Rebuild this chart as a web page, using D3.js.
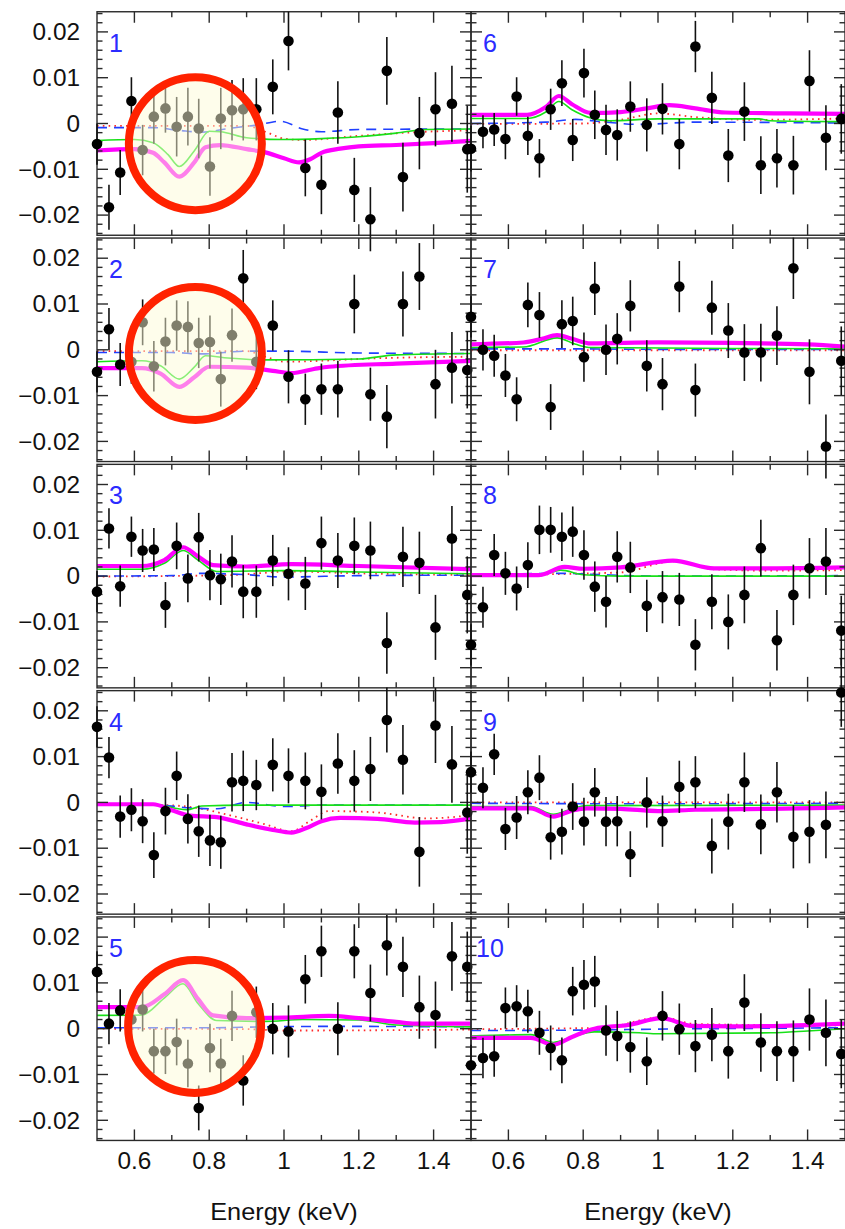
<!DOCTYPE html>
<html><head><meta charset="utf-8">
<script src="https://cdn.jsdelivr.net/npm/d3@7"></script>
<style>html,body{margin:0;padding:0;background:#fff;} svg{display:block;}</style>
</head><body>
<svg id="chart" width="845" height="1229"></svg>
<script>
// Energy bins (keV), shared by all ten spectra
const energies = [0.5,0.532,0.562,0.592,0.622,0.652,0.683,0.713,0.743,0.772,0.802,0.831,0.861,0.891,0.926,0.970,1.012,1.057,1.100,1.144,1.188,1.231,1.275,1.318,1.362,1.405,1.449,1.49];

// Residuals per panel (panel 1 … 10)
const resid = [
  [-0.0045,-0.0183,-0.0107,0.0049,-0.0058,0.0015,0.0033,-0.0007,0.0015,-0.0011,-0.0094,0.0011,0.0029,0.0031,0.0031,0.0080,0.0180,-0.0097,-0.0134,0.0024,-0.0145,-0.0209,0.0115,-0.0117,-0.0021,0.0031,0.0043,-0.0056],
  [-0.0048,0.0045,-0.0032,-0.0026,0.0060,-0.0036,0.0018,0.0053,0.0050,0.0015,0.0017,-0.0064,0.0032,0.0156,-0.0026,0.0053,-0.0059,-0.0108,-0.0086,-0.0086,0.0100,-0.0097,-0.0146,0.0100,0.0160,-0.0075,-0.0039,-0.0044],
  [-0.0034,0.0104,-0.0022,0.0086,0.0056,0.0058,-0.0063,0.0066,-0.0005,0.0085,0.0002,-0.0007,0.0032,-0.0034,-0.0034,0.0034,0.0005,-0.0016,0.0072,0.0034,0.0066,0.0056,-0.0146,0.0042,0.0029,-0.0112,0.0082,-0.0041],
  [0.0165,0.0098,-0.0031,-0.0016,-0.0041,-0.0115,-0.0019,0.0058,-0.0036,-0.0063,-0.0083,-0.0087,0.0044,0.0047,0.0038,0.0082,0.0058,0.0047,0.0023,0.0085,0.0047,0.0073,0.0180,0.0093,-0.0108,0.0168,0.0083,-0.0022],
  [0.0124,0.0011,0.0040,0.0020,0.0042,-0.0049,-0.0049,-0.0029,-0.0076,-0.0173,-0.0042,-0.0076,0.0028,-0.0113,0.0036,0.0000,-0.0006,0.0108,0.0169,0.0000,0.0169,0.0078,0.0182,0.0135,0.0047,0.0030,0.0158,0.0135],
  [-0.0055,-0.0018,-0.0013,-0.0034,0.0059,-0.0027,-0.0076,0.0031,0.0088,-0.0036,0.0110,0.0019,-0.0014,-0.0025,0.0037,-0.0003,0.0032,-0.0045,0.0168,0.0056,-0.0070,0.0026,-0.0091,-0.0076,-0.0091,0.0093,-0.0031,0.0010],
  [0.0072,0.0000,-0.0013,-0.0056,-0.0108,0.0098,0.0076,-0.0125,0.0056,0.0063,-0.0016,0.0134,0.0000,0.0024,0.0096,-0.0035,-0.0075,0.0138,-0.0088,0.0092,0.0042,-0.0006,-0.0006,0.0031,0.0178,-0.0048,-0.0211,-0.0024],
  [-0.0150,-0.0068,0.0046,0.0006,-0.0027,0.0024,0.0101,0.0101,0.0086,0.0097,0.0046,-0.0023,-0.0056,0.0042,0.0019,-0.0065,-0.0046,-0.0051,-0.0150,-0.0056,-0.0100,-0.0041,0.0061,-0.0140,-0.0041,0.0017,0.0032,-0.0119],
  [0.0066,0.0032,0.0105,-0.0058,-0.0033,0.0022,0.0054,-0.0076,-0.0064,-0.0009,-0.0042,0.0022,-0.0042,-0.0041,-0.0113,0.0000,-0.0041,0.0034,0.0044,-0.0095,-0.0042,0.0044,-0.0048,0.0022,-0.0075,-0.0064,-0.0049,0.0240],
  [-0.0080,-0.0064,-0.0060,0.0045,0.0049,0.0038,-0.0009,-0.0042,-0.0069,0.0082,0.0096,0.0103,-0.0004,-0.0016,-0.0040,-0.0071,0.0028,-0.0001,-0.0038,-0.0013,-0.0049,0.0057,-0.0030,-0.0049,-0.0049,0.0020,-0.0009,-0.0055]
];

// 1-sigma errors per panel
const errs = [
  [0.0045,0.0049,0.0049,0.0052,0.0055,0.0059,0.0053,0.0065,0.0063,0.0065,0.0064,0.0067,0.0066,0.0068,0.0068,0.0060,0.0064,0.0062,0.0064,0.0068,0.0070,0.0070,0.0074,0.0075,0.0079,0.0081,0.0083,0.0095],
  [0.0045,0.0046,0.0047,0.0048,0.0050,0.0055,0.0052,0.0055,0.0056,0.0055,0.0058,0.0060,0.0058,0.0062,0.0060,0.0055,0.0058,0.0056,0.0056,0.0062,0.0064,0.0058,0.0069,0.0071,0.0073,0.0075,0.0078,0.0084],
  [0.0045,0.0044,0.0045,0.0044,0.0047,0.0047,0.0050,0.0051,0.0052,0.0053,0.0055,0.0056,0.0057,0.0058,0.0057,0.0056,0.0058,0.0058,0.0058,0.0060,0.0062,0.0063,0.0067,0.0066,0.0068,0.0071,0.0071,0.0084],
  [0.0045,0.0045,0.0046,0.0047,0.0048,0.0050,0.0051,0.0053,0.0054,0.0056,0.0056,0.0058,0.0064,0.0066,0.0055,0.0058,0.0060,0.0062,0.0060,0.0066,0.0067,0.0070,0.0071,0.0076,0.0076,0.0082,0.0084,0.0090],
  [0.0045,0.0045,0.0046,0.0047,0.0048,0.0049,0.0050,0.0051,0.0052,0.0049,0.0053,0.0054,0.0055,0.0055,0.0056,0.0056,0.0057,0.0053,0.0056,0.0058,0.0059,0.0062,0.0066,0.0066,0.0069,0.0073,0.0075,0.0077],
  [0.0050,0.0036,0.0036,0.0044,0.0042,0.0042,0.0042,0.0045,0.0050,0.0046,0.0053,0.0053,0.0055,0.0056,0.0055,0.0058,0.0056,0.0055,0.0056,0.0057,0.0058,0.0064,0.0063,0.0064,0.0064,0.0067,0.0071,0.0076],
  [0.0045,0.0045,0.0046,0.0047,0.0048,0.0049,0.0050,0.0050,0.0052,0.0053,0.0054,0.0058,0.0055,0.0056,0.0056,0.0056,0.0057,0.0056,0.0058,0.0059,0.0060,0.0062,0.0063,0.0064,0.0067,0.0071,0.0070,0.0075],
  [0.0045,0.0045,0.0046,0.0047,0.0048,0.0050,0.0053,0.0050,0.0053,0.0055,0.0054,0.0055,0.0056,0.0056,0.0056,0.0057,0.0057,0.0058,0.0056,0.0060,0.0060,0.0062,0.0062,0.0066,0.0066,0.0066,0.0073,0.0076],
  [0.0045,0.0045,0.0045,0.0046,0.0047,0.0048,0.0049,0.0049,0.0050,0.0051,0.0052,0.0053,0.0054,0.0055,0.0050,0.0055,0.0056,0.0057,0.0057,0.0060,0.0061,0.0065,0.0065,0.0066,0.0069,0.0069,0.0073,0.0075],
  [0.0045,0.0044,0.0045,0.0045,0.0046,0.0047,0.0048,0.0049,0.0050,0.0053,0.0054,0.0056,0.0055,0.0055,0.0056,0.0052,0.0054,0.0056,0.0057,0.0058,0.0060,0.0062,0.0064,0.0065,0.0067,0.0068,0.0073,0.0075]
];

// Model components, [energy, residual] knots per panel
const modelTotal = [
  [[0.5,-0.0059],[0.6,-0.0056],[0.65,-0.0064],[0.68,-0.0085],[0.72,-0.0116],[0.76,-0.0085],[0.79,-0.0052],[0.83,-0.0047],[0.9,-0.0056],[0.95,-0.0063],[1.0,-0.0076],[1.04,-0.0085],[1.07,-0.0078],[1.1,-0.0064],[1.15,-0.0055],[1.2,-0.005],[1.3,-0.0047],[1.4,-0.0043],[1.5,-0.0038]],
  [[0.5,-0.004],[0.62,-0.004],[0.67,-0.0052],[0.72,-0.0081],[0.76,-0.006],[0.8,-0.0037],[0.9,-0.0039],[0.97,-0.0046],[1.02,-0.0051],[1.08,-0.0042],[1.12,-0.0037],[1.3,-0.003],[1.5,-0.0024]],
  [[0.5,0.0022],[0.62,0.0022],[0.68,0.0035],[0.73,0.0063],[0.77,0.0043],[0.81,0.0024],[0.9,0.0021],[1.02,0.0026],[1.2,0.0022],[1.5,0.0015]],
  [[0.5,-0.0004],[0.65,-0.0004],[0.7,-0.0017],[0.75,-0.0029],[0.82,-0.0032],[0.9,-0.0048],[0.97,-0.006],[1.02,-0.0066],[1.06,-0.0056],[1.1,-0.0041],[1.15,-0.0034],[1.25,-0.0036],[1.35,-0.0044],[1.42,-0.0043],[1.5,-0.0035]],
  [[0.5,0.0047],[0.62,0.0047],[0.68,0.0075],[0.73,0.0106],[0.77,0.0065],[0.81,0.0029],[0.9,0.0023],[1.0,0.0024],[1.12,0.0028],[1.2,0.0023],[1.3,0.0015],[1.35,0.0011],[1.5,0.0011]],
  [[0.5,0.0019],[0.65,0.0019],[0.7,0.0036],[0.735,0.006],[0.77,0.0042],[0.82,0.0023],[0.9,0.0025],[0.97,0.0033],[1.03,0.004],[1.1,0.0033],[1.18,0.0024],[1.35,0.0022],[1.5,0.0021]],
  [[0.5,0.0012],[0.64,0.0016],[0.69,0.0024],[0.73,0.0032],[0.77,0.0024],[0.82,0.0014],[1.0,0.0016],[1.2,0.0015],[1.4,0.0012],[1.5,0.0007]],
  [[0.5,0.0002],[0.68,0.0002],[0.75,0.002],[0.8,0.0016],[0.9,0.0019],[1.04,0.0034],[1.15,0.0017],[1.3,0.0017],[1.5,0.0019]],
  [[0.5,-0.0013],[0.66,-0.0013],[0.72,-0.0031],[0.77,-0.0018],[0.81,-0.0013],[0.9,-0.0014],[1.0,-0.0019],[1.1,-0.0016],[1.3,-0.0014],[1.5,-0.0011]],
  [[0.5,-0.002],[0.66,-0.002],[0.72,-0.0035],[0.77,-0.0018],[0.83,0.0],[0.92,0.0008],[1.01,0.0023],[1.09,0.0006],[1.2,0.0005],[1.4,0.0008],[1.5,0.0011]]
];
const modelGreen = [
  [[0.5,-0.0037],[0.6,-0.0035],[0.65,-0.0042],[0.69,-0.0068],[0.72,-0.0094],[0.76,-0.006],[0.8,-0.0017],[0.83,-0.0018],[0.9,-0.0031],[1.0,-0.0035],[1.1,-0.0033],[1.2,-0.0029],[1.3,-0.0021],[1.38,-0.0013],[1.5,-0.0012]],
  [[0.5,-0.0026],[0.62,-0.0024],[0.67,-0.0035],[0.72,-0.0064],[0.76,-0.0038],[0.79,-0.0013],[0.85,-0.0018],[0.95,-0.0022],[1.2,-0.002],[1.3,-0.0011],[1.5,-0.0008]],
  [[0.5,0.0015],[0.62,0.0015],[0.68,0.0028],[0.73,0.0056],[0.77,0.0035],[0.82,0.001],[1.0,0.0012],[1.2,0.0009],[1.5,0.0005]],
  [[0.5,-0.0004],[0.65,-0.0004],[0.74,-0.0016],[0.78,-0.0008],[0.9,-0.0006],[1.5,-0.0006]],
  [[0.5,0.0029],[0.62,0.003],[0.68,0.0067],[0.73,0.0098],[0.77,0.0055],[0.82,0.0018],[0.95,0.0016],[1.05,0.002],[1.2,0.0019],[1.3,0.0008],[1.5,0.0004]],
  [[0.5,0.0011],[0.65,0.0011],[0.7,0.0025],[0.735,0.0048],[0.77,0.003],[0.82,0.0012],[0.87,0.0006],[1.0,0.001],[1.27,0.001],[1.3,0.0006],[1.5,0.0004]],
  [[0.5,0.0005],[0.64,0.0006],[0.73,0.0026],[0.78,0.0012],[0.82,0.0005],[1.2,0.0003],[1.5,0.0002]],
  [[0.5,0.0],[0.68,0.0],[0.74,0.0013],[0.8,0.0003],[0.9,0.0],[1.5,0.0]],
  [[0.5,-0.0009],[0.66,-0.0009],[0.72,-0.0026],[0.77,-0.0014],[0.81,-0.0007],[1.5,-0.0006]],
  [[0.5,-0.0016],[0.66,-0.0013],[0.72,-0.003],[0.77,-0.0018],[0.83,-0.0007],[0.95,-0.0009],[1.0,-0.0011],[1.3,-0.0009],[1.4,-0.0005],[1.5,0.0]]
];
const modelBlue = [
  [[0.5,-0.0009],[0.65,-0.0009],[0.72,-0.0015],[0.78,-0.0019],[0.86,-0.001],[0.93,-0.0003],[0.99,0.0005],[1.05,-0.0012],[1.1,-0.0018],[1.2,-0.0013],[1.5,-0.0012]],
  [[0.5,-0.0006],[0.7,-0.0006],[0.78,-0.0009],[0.9,-0.0003],[1.0,-0.0003],[1.2,-0.0007],[1.5,-0.0008]],
  [[0.5,0.0],[0.7,0.0001],[0.78,0.0006],[0.9,0.0003],[1.0,-0.0002],[1.2,0.0001],[1.5,0.0002]],
  [[0.5,-0.0004],[0.65,-0.0005],[0.75,-0.0012],[0.82,-0.0014],[0.9,0.0],[1.0,-0.0009],[1.1,-0.0006],[1.5,-0.0006]],
  [[0.5,0.0002],[0.8,0.0002],[0.95,0.0004],[1.1,0.0005],[1.2,0.0005],[1.5,0.0004]],
  [[0.5,0.0],[0.7,0.0003],[0.78,0.0009],[0.85,0.0004],[0.95,-0.0002],[1.1,0.0003],[1.5,0.0001]],
  [[0.5,0.0002],[0.8,0.0002],[1.0,0.0001],[1.5,0.0001]],
  [[0.5,0.0002],[0.75,0.0006],[0.85,0.0003],[1.0,0.0],[1.5,0.0001]],
  [[0.5,-0.0002],[1.0,-0.0003],[1.5,-0.0002]],
  [[0.5,-0.0004],[0.8,-0.0003],[1.0,-0.0001],[1.5,0.0002]]
];
const modelRed = [
  [[0.5,-0.0005],[0.9,-0.0005],[0.95,-0.0018],[1.0,-0.0033],[1.05,-0.0036],[1.2,-0.0027],[1.35,-0.0019],[1.5,-0.0015]],
  [[0.5,-0.0003],[0.9,-0.0003],[0.95,-0.0015],[1.0,-0.0026],[1.1,-0.0024],[1.2,-0.002],[1.5,-0.0015]],
  [[0.5,-0.0001],[0.85,0.0002],[1.02,0.001],[1.2,0.0006],[1.5,0.0002]],
  [[0.5,-0.0004],[0.65,-0.0005],[0.74,-0.0009],[0.87,-0.0031],[0.95,-0.0048],[1.02,-0.0063],[1.07,-0.004],[1.12,-0.0019],[1.25,-0.0022],[1.38,-0.0035],[1.5,-0.0028]],
  [[0.5,0.0],[0.9,-0.0001],[1.0,-0.0004],[1.5,-0.0002]],
  [[0.5,-0.0001],[0.8,0.0],[0.9,0.0008],[1.0,0.0022],[1.1,0.0014],[1.25,0.0008],[1.5,0.0011]],
  [[0.5,-0.0001],[1.5,-0.0001]],
  [[0.5,0.0002],[0.9,0.0008],[1.04,0.0032],[1.15,0.0015],[1.3,0.0012],[1.5,0.0013]],
  [[0.5,0.0],[1.0,0.0],[1.5,0.0]],
  [[0.5,-0.0001],[0.85,0.0002],[1.01,0.0025],[1.1,0.001],[1.5,0.0007]]
];

// Axis ticks and labels
const yMajor = [-0.02,-0.01,0,0.01,0.02];
const yLabels = ["\u22120.02","\u22120.01","0","0.01","0.02"];
const xMajor = [0.6,0.8,1.0,1.2,1.4];
const xLabels = ["0.6","0.8","1","1.2","1.4"];
const xMinor = [0.7,0.9,1.1,1.3];
const panelNames = ["1","2","3","4","5","6","7","8","9","10"];

// Highlighted regions: panel index, centre energy, centre residual
const ringPanel = [0,1,4];
const ringE = [0.763,0.763,0.761];
const ringV = [-0.0044,-0.0008,0.0005];

// ---- drawing ----
const svg = d3.select('#chart');
const FONT = '"Liberation Sans", Arial, Helvetica, sans-serif';
const colLeft = [97, 471], panelW = 374;
const zero0 = 123.5, pitch = 226.3, halfH = 111.75;
const yDomain = [-0.0244, 0.0244];
const majorLen = 11, minorLen = 5.5;
const yMinor = d3.range(-12, 13).filter(k => k % 5 !== 0).map(k => k * 0.002);

const scales = [];

panelNames.forEach((name, p) => {
  const col = Math.floor(p / 5), row = p % 5;
  const x0 = colLeft[col];
  const zy = zero0 + pitch * row;
  const top = zy - halfH, bottom = zy + halfH;
  const x = d3.scaleLinear().domain([0.5, 1.5]).range([x0, x0 + panelW]);
  const y = d3.scaleLinear().domain(yDomain).range([bottom, top]);
  scales.push({x, y});
  const g = svg.append('g');

  // model curves
  const line = d3.line().x(d => x(d[0])).y(d => y(d[1])).curve(d3.curveMonotoneX);
  g.append('path').attr('d', line(modelRed[p])).attr('fill', 'none')
    .attr('stroke', '#ff2a2a').attr('stroke-width', 1.8).attr('stroke-dasharray', '1.6,4.2');
  g.append('path').attr('d', line(modelBlue[p])).attr('fill', 'none')
    .attr('stroke', '#2040ff').attr('stroke-width', 1.6).attr('stroke-dasharray', '10,7');
  g.append('path').attr('d', line(modelGreen[p])).attr('fill', 'none')
    .attr('stroke', '#18e018').attr('stroke-width', 1.6);
  g.append('path').attr('d', line(modelTotal[p])).attr('fill', 'none')
    .attr('stroke', '#ff00ff').attr('stroke-width', 4.2).attr('stroke-linejoin', 'round');

  // frame
  g.append('rect').attr('x', x0).attr('y', top).attr('width', panelW).attr('height', bottom - top)
    .attr('fill', 'none').attr('stroke', '#2a2a2a').attr('stroke-width', 1.4);

  const tk = g.append('g').attr('stroke', '#2a2a2a').attr('stroke-width', 1.4);
  // y ticks (left and right, inward)
  yMajor.concat(yMinor).forEach(v => {
    const len = yMajor.includes(v) ? majorLen : minorLen;
    const yy = y(v);
    tk.append('line').attr('x1', x0).attr('x2', x0 + len).attr('y1', yy).attr('y2', yy);
    tk.append('line').attr('x1', x0 + panelW).attr('x2', x0 + panelW - len).attr('y1', yy).attr('y2', yy);
  });
  // x ticks (top and bottom, inward)
  xMajor.concat(xMinor).forEach(e => {
    const len = xMajor.includes(e) ? majorLen : minorLen;
    const xx = x(e);
    tk.append('line').attr('x1', xx).attr('x2', xx).attr('y1', top).attr('y2', top + len);
    tk.append('line').attr('x1', xx).attr('x2', xx).attr('y1', bottom).attr('y2', bottom - len);
  });

  // residual points with error bars
  const pts = energies.map((e, i) => ({e, v: resid[p][i], s: errs[p][i]}));
  g.append('g').selectAll('line').data(pts).join('line')
    .attr('x1', d => x(d.e)).attr('x2', d => x(d.e))
    .attr('y1', d => y(d.v - d.s)).attr('y2', d => y(d.v + d.s))
    .attr('stroke', '#111').attr('stroke-width', 1.6);
  g.append('g').selectAll('circle').data(pts).join('circle')
    .attr('cx', d => x(d.e)).attr('cy', d => y(d.v)).attr('r', 5.3).attr('fill', '#000');

  // panel number
  g.append('text').attr('x', x0 + 19).attr('y', top + 40)
    .attr('text-anchor', 'middle').attr('font-family', FONT).attr('font-size', 25)
    .attr('fill', '#2b2bff').text(name);

  // y tick labels on the left column
  if (col === 0) {
    yMajor.forEach((v, i) => {
      g.append('text')
        .attr('transform', `translate(80,${y(v)}) scale(1.06,1)`)
        .attr('dy', '0.36em').attr('text-anchor', 'end')
        .attr('font-family', FONT).attr('font-size', 23).attr('fill', '#111')
        .text(yLabels[i]);
    });
  }

  // x tick labels and axis title under the bottom row
  if (row === 4) {
    xMajor.forEach((e, i) => {
      g.append('text')
        .attr('transform', `translate(${x(e)},${bottom + 29}) scale(1.06,1)`)
        .attr('text-anchor', 'middle')
        .attr('font-family', FONT).attr('font-size', 23).attr('fill', '#111')
        .text(xLabels[i]);
    });
    g.append('text')
      .attr('transform', `translate(${x(1.0)},${bottom + 80}) scale(1.1,1)`)
      .attr('text-anchor', 'middle')
      .attr('font-family', FONT).attr('font-size', 23).attr('fill', '#111')
      .text('Energy (keV)');
  }
});

// highlighted regions
ringPanel.forEach((p, i) => {
  const {x, y} = scales[p];
  const cx = x(ringE[i]), cy = y(ringV[i]);
  svg.append('circle').attr('cx', cx).attr('cy', cy).attr('r', 66.5)
    .attr('fill', '#fdfbd8').attr('fill-opacity', 0.5);
  svg.append('circle').attr('cx', cx).attr('cy', cy).attr('r', 66.5)
    .attr('fill', 'none').attr('stroke', '#ff2200').attr('stroke-width', 8);
});
</script>
</body></html>
